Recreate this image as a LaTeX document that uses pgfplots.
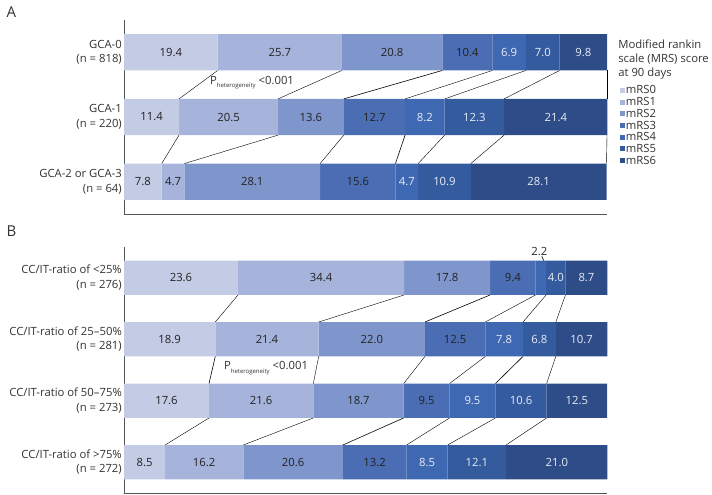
\documentclass[border=0pt]{standalone}
\usepackage{fontspec}
\setmainfont{Open Sans}
\usepackage{pgfplots}
\pgfplotsset{compat=1.18}

\definecolor{c0}{HTML}{C4CBE4}
\definecolor{c1}{HTML}{A6B4DC}
\definecolor{c2}{HTML}{7F96CC}
\definecolor{c3}{HTML}{4A6DB3}
\definecolor{c4}{HTML}{3F68B2}
\definecolor{c5}{HTML}{355B9F}
\definecolor{c6}{HTML}{2E4C88}
\definecolor{dtext}{HTML}{222222}
\definecolor{ltext}{HTML}{E8ECF5}
\definecolor{labgray}{HTML}{333333}
\definecolor{axgray}{HTML}{555555}

\newcommand{\lbl}{\fontsize{11.3}{14.5}\selectfont}

\pgfplotsset{
  mrsbars/.style={
    scale only axis, width=483pt,
    xbar stacked, bar width=0.56,
    xmin=0, xmax=100, clip=false,
    axis x line=bottom, axis y line=left,
    axis line style={-, draw=axgray, line width=0.9pt},
    xtick=\empty, major tick length=0pt,
    yticklabel style={align=right, font=\lbl, text=labgray, inner sep=2pt},
    point meta=explicit symbolic,
    nodes near coords={\pgfplotspointmeta},
    every node near coord/.append style={font=\lbl},
  },
  dk/.style={fill=#1, draw=none, every node near coord/.append style={text=dtext}},
  lt/.style={fill=#1, draw=none, every node near coord/.append style={text=ltext}},
  links/.style={
    scale only axis, width=483pt, xmin=0, xmax=100, hide axis, clip=false,
    cycle list={{black, solid, line width=0.6pt, mark=none}},
  },
}

\begin{document}
\begin{tikzpicture}
\path[use as bounding box] (0pt,0pt) rectangle (712pt,-495pt);
\node[font=\fontsize{15}{15}\selectfont, text=labgray, anchor=west] at (3pt,-12pt) {A};
\node[font=\fontsize{15}{15}\selectfont, text=labgray, anchor=west] at (3pt,-231pt) {B};

% ---------- panel A ----------
\begin{axis}[mrsbars, at={(124pt,-214pt)}, anchor=south west, height=194pt,
  ymin=-0.5, ymax=2.5, ytick={0,1,2},
  yticklabels={{GCA-2 or GCA-3\\(n = 64)},{GCA-1\\(n = 220)},{GCA-0\\(n = 818)}},
  legend style={at={(1.027,0.665)}, anchor=north west, draw=none, fill=none,
    font=\lbl, text=labgray, inner sep=0pt, row sep=0.8pt,
    nodes={inner sep=0.6pt}},
  every axis plot post/.append style={legend image code/.code={\fill[##1] (0pt,-2.4pt) rectangle (5pt,2.6pt);}},
]
\addplot[dk=c0] coordinates {(19.4,2) [19.4] (11.4,1) [11.4] (7.8,0) [7.8]};
\addplot[dk=c1] coordinates {(25.7,2) [25.7] (20.5,1) [20.5] (4.7,0) [4.7]};
\addplot[dk=c2] coordinates {(20.8,2) [20.8] (13.6,1) [13.6] (28.1,0) [28.1]};
\addplot[dk=c3] coordinates {(10.4,2) [10.4] (12.7,1) [12.7] (15.6,0) [15.6]};
\addplot[lt=c4] coordinates {(6.9,2) [6.9] (8.2,1) [8.2] (4.7,0) [4.7]};
\addplot[lt=c5] coordinates {(7.0,2) [7.0] (12.3,1) [12.3] (10.9,0) [10.9]};
\addplot[lt=c6] coordinates {(9.8,2) [9.8] (21.4,1) [21.4] (28.1,0) [28.1]};
\legend{mRS0,mRS1,mRS2,mRS3,mRS4,mRS5,mRS6}
\node[anchor=north west, align=left, font=\fontsize{11.3}{14}\selectfont, text=labgray, inner sep=0pt]
  at (rel axis cs:1.023,0.9) {Modified rankin\\scale (MRS) score\\at 90 days};
\end{axis}

\begin{axis}[links, at={(124pt,-214pt)}, anchor=south west, height=194pt,
  ymin=-0.5, ymax=2.5]
\addplot coordinates {(19.4,1.72) (11.4,1.28)};
\addplot coordinates {(45.1,1.72) (31.9,1.28)};
\addplot coordinates {(65.9,1.72) (45.5,1.28)};
\addplot coordinates {(76.3,1.72) (58.2,1.28)};
\addplot coordinates {(83.2,1.72) (66.4,1.28)};
\addplot coordinates {(90.2,1.72) (78.7,1.28)};
\addplot coordinates {(100.0,1.72) (100.0,1.28)};
\addplot coordinates {(11.4,0.72) (7.8,0.28)};
\addplot coordinates {(31.9,0.72) (12.5,0.28)};
\addplot coordinates {(45.5,0.72) (40.6,0.28)};
\addplot coordinates {(58.2,0.72) (56.2,0.28)};
\addplot coordinates {(66.4,0.72) (60.9,0.28)};
\addplot coordinates {(78.7,0.72) (71.8,0.28)};
\addplot coordinates {(100.0,0.72) (99.9,0.28)};
\node[font=\lbl, text=labgray] at (axis cs:26.5,1.53)
  {P\raisebox{-0.55ex}{\fontsize{6}{6}\selectfont heterogeneity} <0.001};
\end{axis}

% ---------- panel B ----------
\begin{axis}[mrsbars, at={(124pt,-493pt)}, anchor=south west, height=246pt,
  ymin=-0.5, ymax=3.5, ytick={0,1,2,3},
  yticklabels={{CC/IT-ratio of >75\%\\(n = 272)},{CC/IT-ratio of 50–75\%\\(n = 273)},
    {CC/IT-ratio of 25–50\%\\(n = 281)},{CC/IT-ratio of <25\%\\(n = 276)}},
]
\addplot[dk=c0] coordinates {(23.6,3) [23.6] (18.9,2) [18.9] (17.6,1) [17.6] (8.5,0) [8.5]};
\addplot[dk=c1] coordinates {(34.4,3) [34.4] (21.4,2) [21.4] (21.6,1) [21.6] (16.2,0) [16.2]};
\addplot[dk=c2] coordinates {(17.8,3) [17.8] (22.0,2) [22.0] (18.7,1) [18.7] (20.6,0) [20.6]};
\addplot[dk=c3] coordinates {(9.4,3) [9.4] (12.5,2) [12.5] (9.5,1) [9.5] (13.2,0) [13.2]};
% the 2.2 segment is labelled above the bar
\addplot[lt=c4] coordinates {(2.2,3) [\relax] (7.8,2) [7.8] (9.5,1) [9.5] (8.5,0) [8.5]};
\addplot[lt=c5] coordinates {(4.0,3) [4.0] (6.8,2) [6.8] (10.6,1) [10.6] (12.1,0) [12.1]};
\addplot[lt=c6] coordinates {(8.7,3) [8.7] (10.7,2) [10.7] (12.5,1) [12.5] (21.0,0) [21.0]};
\end{axis}

\begin{axis}[links, at={(124pt,-493pt)}, anchor=south west, height=246pt,
  ymin=-0.5, ymax=3.5]
\addplot coordinates {(23.6,2.72) (18.9,2.28)};
\addplot coordinates {(58.0,2.72) (40.3,2.28)};
\addplot coordinates {(75.8,2.72) (62.3,2.28)};
\addplot coordinates {(85.2,2.72) (74.8,2.28)};
\addplot coordinates {(87.4,2.72) (82.6,2.28)};
\addplot coordinates {(91.4,2.72) (89.4,2.28)};
\addplot coordinates {(18.9,1.72) (17.6,1.28)};
\addplot coordinates {(40.3,1.72) (39.2,1.28)};
\addplot coordinates {(62.3,1.72) (57.9,1.28)};
\addplot coordinates {(74.8,1.72) (67.4,1.28)};
\addplot coordinates {(82.6,1.72) (76.9,1.28)};
\addplot coordinates {(89.4,1.72) (87.5,1.28)};
\addplot coordinates {(17.6,0.72) (8.5,0.28)};
\addplot coordinates {(39.2,0.72) (24.7,0.28)};
\addplot coordinates {(57.9,0.72) (45.3,0.28)};
\addplot coordinates {(67.4,0.72) (58.5,0.28)};
\addplot coordinates {(76.9,0.72) (67.0,0.28)};
\addplot coordinates {(87.5,0.72) (79.1,0.28)};
\addplot coordinates {(86.9,3.28) (86.5,3.35)};
\node[font=\lbl, text=dtext] at (axis cs:86.0,3.43) {2.2};
\node[font=\lbl, text=labgray] at (axis cs:29.4,1.53)
  {P\raisebox{-0.55ex}{\fontsize{6}{6}\selectfont heterogeneity} <0.001};
\end{axis}
\end{tikzpicture}
\end{document}
